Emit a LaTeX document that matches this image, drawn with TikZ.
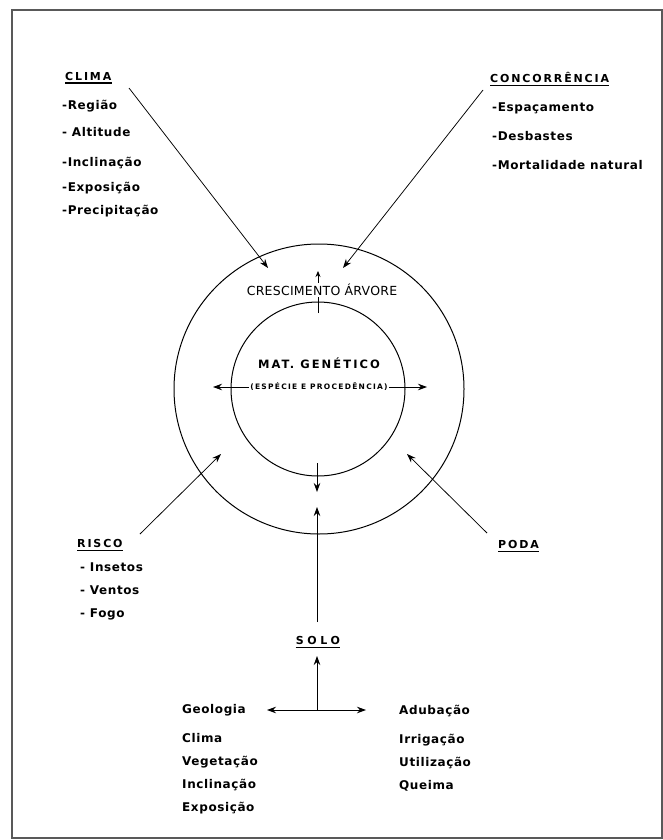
\documentclass[tikz,border=0pt]{standalone}
\usepackage{fontspec}
\setmainfont{DejaVu Sans}
\newfontfamily\itemfont{DejaVu Sans}[LetterSpace=5]
\newfontfamily\headfont{DejaVu Sans}[LetterSpace=17]
\newfontfamily\solofont{DejaVu Sans}[LetterSpace=33]
\newfontfamily\matfont{DejaVu Sans}[LetterSpace=18]
\newfontfamily\espfont{DejaVu Sans}[LetterSpace=17]
\newfontfamily\crescfont{DejaVu Sans}[LetterSpace=2]
\usetikzlibrary{arrows.meta}
\begin{document}
\begin{tikzpicture}[x=1pt,y=-1pt,
  lab/.style={inner sep=0pt, anchor=west, font=\itemfont\bfseries\fontsize{12}{14}\selectfont},
  head/.style={inner sep=0pt, anchor=west, font=\headfont\bfseries\fontsize{11}{13}\selectfont},
  arr/.style={line width=0.75pt, -{Stealth[length=9pt,width=6.5pt]}},
  arrboth/.style={line width=0.75pt, {Stealth[length=9pt,width=6.5pt]}-{Stealth[length=9pt,width=6.5pt]}},
  uline/.style={line width=1.4pt},
  ring/.style={circle, draw, line width=1pt, inner sep=0pt}]
\useasboundingbox (0,0) rectangle (663,840);
\draw[line width=1.2pt, black!65] (12,10) rectangle (662,838);

% circles
\node[ring, minimum size=290pt] (outer) at (319,389) {};
\node[ring, minimum size=174pt] (inner) at (318,389) {};

% top inner arrow (behind text)
\coordinate (up1) at (318,313);
\coordinate (up2) at (318,271);
\draw[line width=0.75pt, -{Stealth[length=6pt,width=5pt]}] (up1) -- (up2);
\node[font=\crescfont\fontsize{12.5}{14}\selectfont, fill=white, inner sep=1pt] (cresc) at (322,290) {CRESCIMENTO ÁRVORE};

\node[font=\matfont\bfseries\fontsize{11.5}{13}\selectfont, inner sep=0pt] (mat) at (319,363) {MAT. GENÉTICO};
\node[font=\espfont\bfseries\fontsize{7.5}{9}\selectfont, inner sep=1.5pt] (esp) at (319,387) {(ESPÉCIE E PROCEDÊNCIA)};
\coordinate (espL) at (213,387);
\coordinate (espR) at (427,387);
\draw[arr] (esp.west) -- (espL);
\draw[arr] (esp.east) -- (espR);

\coordinate (dn1) at (317,463);
\coordinate (dn2) at (317,492);
\draw[arr] (dn1) -- (dn2);

% CLIMA
\node[head] (clima) at (65,76) {CLIMA};
\draw[uline] ([yshift=-3pt]clima.base west) -- ([yshift=-3pt]clima.base east);
\node[lab] (c1) at (62,106) {-Região};
\node[lab] (c2) at (62,132) {- Altitude};
\node[lab] (c3) at (62,163) {-Inclinação};
\node[lab] (c4) at (62,188) {-Exposição};
\node[lab] (c5) at (62,211) {-Precipitação};
\coordinate (ca) at (129,88);
\coordinate (cb) at (268,268);
\draw[arr] (ca) -- (cb);

% CONCORRENCIA
\node[head] (conc) at (490,77) {CONCORRÊNCIA};
\draw[uline] ([yshift=-3.5pt]conc.base west) -- ([yshift=-3.5pt]conc.base east);
\node[lab] (k1) at (492,108) {-Espaçamento};
\node[lab] (k2) at (492,136) {-Desbastes};
\node[lab] (k3) at (492,165) {-Mortalidade natural};
\coordinate (ka) at (483,90);
\coordinate (kb) at (343,268);
\draw[arr] (ka) -- (kb);

% RISCO
\node[head] (risco) at (77,543) {RISCO};
\draw[uline] ([yshift=-3.5pt]risco.base west) -- ([yshift=-3.5pt]risco.base east);
\node[lab] (r1) at (80,567) {- Insetos};
\node[lab] (r2) at (80,590) {- Ventos};
\node[lab] (r3) at (80,614) {- Fogo};
\coordinate (ra) at (140,534);
\coordinate (rb) at (221,454);
\draw[arr] (ra) -- (rb);

% PODA
\node[head] (poda) at (498,544) {PODA};
\draw[uline] ([yshift=-3.5pt]poda.base west) -- ([yshift=-3.5pt]poda.base east);
\coordinate (pa) at (487,533);
\coordinate (pb) at (407,454);
\draw[arr] (pa) -- (pb);

% SOLO
\node[font=\solofont\bfseries\fontsize{11}{13}\selectfont, inner sep=0pt] (solo) at (318,640) {SOLO};
\draw[uline] ([yshift=-3.5pt]solo.base west) -- ([yshift=-3.5pt]solo.base east);
\coordinate (soloTop) at (317,622);
\coordinate (soloIn) at (317,507);
\draw[arr] (soloTop) -- (soloIn);
\coordinate (jn) at (317,710);
\coordinate (soloBot) at (317,656);
\draw[arr] (jn) -- (soloBot);
\coordinate (jL) at (267,710);
\coordinate (jR) at (366,710);
\draw[arrboth] (jL) -- (jR);

\node[lab] (s1) at (182,710) {Geologia};
\node[lab] (s2) at (182,738) {Clima};
\node[lab] (s3) at (182,762) {Vegetação};
\node[lab] (s4) at (182,785) {Inclinação};
\node[lab] (s5) at (182,808) {Exposição};

\node[lab] (t1) at (399,711) {Adubação};
\node[lab] (t2) at (399,740) {Irrigação};
\node[lab] (t3) at (399,763) {Utilização};
\node[lab] (t4) at (399,786) {Queima};
\end{tikzpicture}
\end{document}
